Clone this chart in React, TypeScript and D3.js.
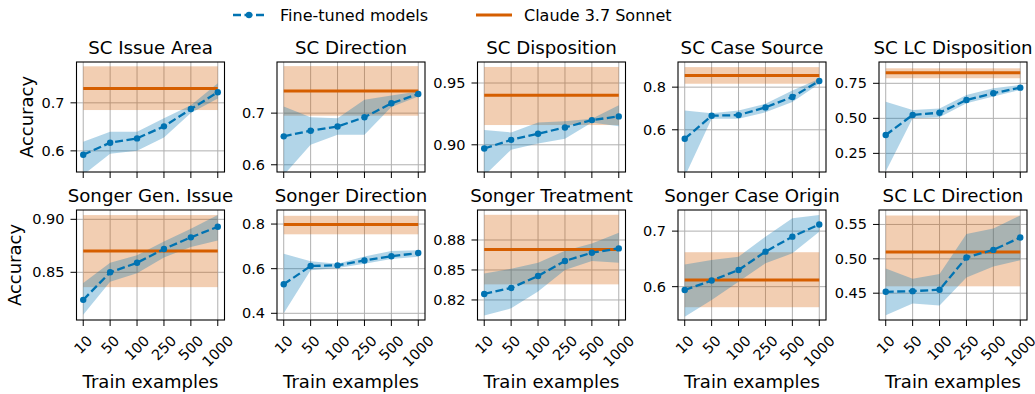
import * as d3 from "d3";

const trainSizes = ["10", "50", "100", "250", "500", "1000"];
const panelTitles = [
  "SC Issue Area", "SC Direction", "SC Disposition", "SC Case Source", "SC LC Disposition",
  "Songer Gen. Issue", "Songer Direction", "Songer Treatment", "Songer Case Origin", "SC LC Direction",
];

// fine-tuned models: mean accuracy and band per train size
const ftMean = [
  [0.592, 0.617, 0.626, 0.651, 0.687, 0.722],
  [0.655, 0.666, 0.674, 0.692, 0.719, 0.737],
  [0.897, 0.904, 0.909, 0.914, 0.92, 0.923],
  [0.558, 0.666, 0.669, 0.705, 0.754, 0.829],
  [0.381, 0.524, 0.54, 0.631, 0.679, 0.719],
  [0.824, 0.85, 0.859, 0.872, 0.883, 0.893],
  [0.53, 0.612, 0.615, 0.637, 0.656, 0.67],
  [0.83, 0.835, 0.845, 0.8575, 0.8644, 0.868],
  [0.594, 0.611, 0.63, 0.663, 0.69, 0.712],
  [0.452, 0.453, 0.455, 0.502, 0.513, 0.531],
];
const ftLower = [
  [0.55, 0.594, 0.6, 0.628, 0.679, 0.709],
  [0.58, 0.639, 0.658, 0.658, 0.712, 0.732],
  [0.875, 0.896, 0.901, 0.905, 0.918, 0.915],
  [0.38, 0.652, 0.652, 0.682, 0.73, 0.816],
  [0.12, 0.5, 0.507, 0.607, 0.655, 0.702],
  [0.81, 0.841, 0.849, 0.864, 0.874, 0.88],
  [0.4, 0.593, 0.603, 0.622, 0.643, 0.654],
  [0.812, 0.818, 0.832, 0.85, 0.8575, 0.856],
  [0.546, 0.576, 0.609, 0.642, 0.66, 0.699],
  [0.418, 0.435, 0.432, 0.473, 0.489, 0.498],
];
const ftUpper = [
  [0.619, 0.64, 0.64, 0.668, 0.695, 0.741],
  [0.713, 0.692, 0.69, 0.726, 0.734, 0.742],
  [0.912, 0.91, 0.918, 0.919, 0.921, 0.932],
  [0.691, 0.678, 0.691, 0.722, 0.784, 0.839],
  [0.619, 0.56, 0.571, 0.667, 0.714, 0.738],
  [0.84, 0.859, 0.866, 0.879, 0.891, 0.904],
  [0.667, 0.633, 0.622, 0.655, 0.679, 0.683],
  [0.847, 0.851, 0.856, 0.866, 0.872, 0.881],
  [0.64, 0.648, 0.654, 0.69, 0.723, 0.729],
  [0.486, 0.471, 0.478, 0.536, 0.544, 0.563],
];

// Claude 3.7 Sonnet baseline
const claudeMean = [0.73, 0.743, 0.94, 0.855, 0.826, 0.87, 0.798, 0.867, 0.612, 0.51];
const claudeLower = [0.685, 0.695, 0.916, 0.816, 0.786, 0.836, 0.754, 0.838, 0.563, 0.46];
const claudeUpper = [0.776, 0.791, 0.963, 0.894, 0.857, 0.904, 0.837, 0.896, 0.662, 0.563];

const yLimits = [
  [0.556, 0.785], [0.586, 0.799], [0.878, 0.967], [0.402, 0.918], [0.117, 0.902],
  [0.805, 0.9088], [0.37, 0.863], [0.8083, 0.9], [0.54, 0.738], [0.411, 0.571],
];
const yTicks = [
  [0.6, 0.7], [0.6, 0.7], [0.9, 0.95], [0.6, 0.8], [0.25, 0.5, 0.75],
  [0.85, 0.9], [0.4, 0.6, 0.8], [0.825, 0.85, 0.875], [0.6, 0.7], [0.45, 0.5, 0.55],
];
const yTickLabels = [
  ["0.6", "0.7"], ["0.6", "0.7"], ["0.90", "0.95"], ["0.6", "0.8"], ["0.25", "0.50", "0.75"],
  ["0.85", "0.90"], ["0.4", "0.6", "0.8"], ["0.82", "0.85", "0.88"], ["0.6", "0.7"], ["0.45", "0.50", "0.55"],
];

const W = 1035;
const H = 394;
const colLeft = [76.5, 277, 477.5, 678, 879];
const rowTop = [62, 210];
const ylabelX = [33, 21];
const pw = 148;
const ph = 110;
const blue = "#0173b2";
const orange = "#d55e00";
const gridColor = "#b0b0b0";
const font = "'DejaVu Sans', sans-serif";
const tickFs = 14.5;
const labelFs = 18;
const titleFs = 18.2;

const Panel = ({ i }: { i: number }) => {
  const row = Math.floor(i / 5);
  const col = i % 5;
  const x0 = colLeft[col];
  const y0 = rowTop[row];
  const x = d3.scaleLinear().domain([-0.25, trainSizes.length - 0.75]).range([x0, x0 + pw]);
  const y = d3.scaleLinear().domain(yLimits[i]).range([y0 + ph, y0]);
  const idx = d3.range(trainSizes.length);
  const last = trainSizes.length - 1;

  const ftArea = d3.area<number>()
    .x((k) => x(k))
    .y0((k) => y(ftLower[i][k]))
    .y1((k) => y(ftUpper[i][k]));
  const ftLine = d3.line<number>()
    .x((k) => x(k))
    .y((k) => y(ftMean[i][k]));

  const clipId = `clip-${i}`;
  const bottom = y0 + ph;

  return (
    <g>
      <clipPath id={clipId}>
        <rect x={x0} y={y0} width={pw} height={ph} />
      </clipPath>
      {/* grid */}
      {idx.map((k) => (
        <line key={`gx${k}`} x1={x(k)} x2={x(k)} y1={y0} y2={bottom} stroke={gridColor} strokeWidth={1} />
      ))}
      {yTicks[i].map((t) => (
        <line key={`gy${t}`} x1={x0} x2={x0 + pw} y1={y(t)} y2={y(t)} stroke={gridColor} strokeWidth={1} />
      ))}
      <g clipPath={`url(#${clipId})`}>
        <rect
          x={x(0)}
          width={x(last) - x(0)}
          y={y(claudeUpper[i])}
          height={y(claudeLower[i]) - y(claudeUpper[i])}
          fill={orange}
          fillOpacity={0.3}
        />
        <path d={ftArea(idx) ?? ""} fill={blue} fillOpacity={0.3} />
        <line x1={x(0)} x2={x(last)} y1={y(claudeMean[i])} y2={y(claudeMean[i])} stroke={orange} strokeWidth={3} />
        <path d={ftLine(idx) ?? ""} fill="none" stroke={blue} strokeWidth={2.3} strokeDasharray="8,3.5" />
        {idx.map((k) => (
          <circle key={`m${k}`} cx={x(k)} cy={y(ftMean[i][k])} r={3.2} fill={blue} />
        ))}
      </g>
      {/* y ticks */}
      {yTicks[i].map((t, j) => (
        <g key={`yt${t}`}>
          <line x1={x0 - 6} x2={x0} y1={y(t)} y2={y(t)} stroke="#000" strokeWidth={1} />
          <text x={x0 - 12} y={y(t)} textAnchor="end" dominantBaseline="central" fontSize={tickFs} fontFamily={font}>
            {yTickLabels[i][j]}
          </text>
        </g>
      ))}
      {/* x ticks */}
      {idx.map((k) => (
        <line key={`xt${k}`} x1={x(k)} x2={x(k)} y1={bottom} y2={bottom + 6} stroke="#000" strokeWidth={1} />
      ))}
      {row === 1 &&
        idx.map((k) => {
          const w = trainSizes[k].length * 0.636 * tickFs;
          const boxH = (w + tickFs) * Math.SQRT1_2;
          const cy = bottom + 13 + boxH / 2;
          return (
            <text
              key={`xl${k}`}
              x={x(k)}
              y={cy}
              transform={`rotate(-45 ${x(k)} ${cy})`}
              textAnchor="middle"
              dominantBaseline="central"
              fontSize={tickFs}
              fontFamily={font}
            >
              {trainSizes[k]}
            </text>
          );
        })}
      {row === 1 && (
        <text x={x0 + pw / 2} y={388} textAnchor="middle" fontSize={labelFs} fontFamily={font}>
          Train examples
        </text>
      )}
      {col === 0 && (
        <text
          transform={`translate(${ylabelX[row]} ${y0 + ph / 2}) rotate(-90)`}
          textAnchor="middle"
          fontSize={labelFs}
          fontFamily={font}
        >
          Accuracy
        </text>
      )}
      <text x={x0 + pw / 2} y={y0 - 8} textAnchor="middle" fontSize={titleFs} fontFamily={font}>
        {panelTitles[i]}
      </text>
      <rect x={x0} y={y0} width={pw} height={ph} fill="none" stroke="#000" strokeWidth={1.1} />
    </g>
  );
};

const Legend = () => (
  <g fontFamily={font} fontSize={16}>
    <line x1={233} x2={265} y1={15} y2={15} stroke={blue} strokeWidth={2.3} strokeDasharray="8,3.5" />
    <circle cx={249} cy={15} r={3.2} fill={blue} />
    <text x={280} y={15} dominantBaseline="central">Fine-tuned models</text>
    <line x1={476} x2={512} y1={15} y2={15} stroke={orange} strokeWidth={3} />
    <text x={524} y={15} dominantBaseline="central">Claude 3.7 Sonnet</text>
  </g>
);

export default function App() {
  return (
    <>
      <style>{`body{margin:0}`}</style>
      <svg width={W} height={H} style={{ display: "block", background: "#fff" }}>
        <Legend />
        {panelTitles.map((_, i) => (
          <Panel key={i} i={i} />
        ))}
      </svg>
    </>
  );
}
